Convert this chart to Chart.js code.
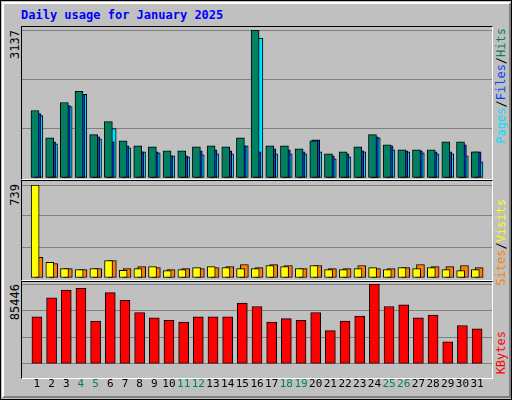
<!DOCTYPE html>
<html>
<head>
<meta charset="utf-8">
<script src="https://cdn.jsdelivr.net/npm/chart.js@4"></script>
<style>
body { margin: 0; background: #fff; font-family: "DejaVu Sans Mono", monospace; }
#wrap { position: absolute; left: 0; top: 0; width: 510px; height: 398px; background: #c0c0c0;
        border: 1px solid #000; }
#bevel { position: absolute; left: 1px; top: 1px; width: 505px; height: 392px;
         border-top: 2px solid #fff; border-left: 2px solid #fff;
         border-right: 2px solid #808080; border-bottom: 2px solid #808080; }
.title { position: absolute; left: 20px; top: 7px; color: #0000ff; font-weight: bold; font-size: 12px; }
.frame { position: absolute; left: 20px; width: 470px; border: 1px solid #000;
         border-right-color: #fff; border-bottom-color: #fff; }
.c { position: absolute; }
.vl { position: absolute; writing-mode: vertical-rl; transform: rotate(180deg); font-size: 12px; white-space: nowrap; }
</style>
</head>
<body>
<div id="wrap">
  <div id="bevel"></div>
  <div class="title">Daily usage for January 2025</div>
  <div class="frame" style="top:25px;height:152px"></div>
  <div class="frame" style="top:179px;height:99px"></div>
  <div class="frame" style="top:280px;height:96px"></div>
  <div class="vl" style="left:7px;top:29px">3137</div>
  <div class="vl" style="left:7px;top:183px">739</div>
  <div class="vl" style="left:7px;top:283px">85446</div>
  <div class="vl" style="left:493px;top:27px"><span style="color:#00e0ff">Pages</span><span style="color:#000">/</span><span style="color:#0040ff">Files</span><span style="color:#000">/</span><span style="color:#008060">Hits</span></div>
  <div class="vl" style="left:493px;top:198px"><span style="color:#ff8000">Sites</span><span style="color:#000">/</span><span style="color:#ffff00">Visits</span></div>
  <div class="vl" style="left:493px;top:330px"><span style="color:#ff0000">KBytes</span></div>
  <div class="c" style="left:21px;top:29px;width:470px;height:148px"><canvas id="c1"></canvas></div>
  <div class="c" style="left:21px;top:184px;width:470px;height:93px"><canvas id="c2"></canvas></div>
  <div class="c" style="left:21px;top:283px;width:470px;height:113px"><canvas id="c3"></canvas></div>
</div>
<script>
const days = ["1","2","3","4","5","6","7","8","9","10","11","12","13","14","15","16","17","18","19","20","21","22","23","24","25","26","27","28","29","30","31"];
const weekends = ["4","5","11","12","18","19","25","26"];

const hits  = [1430,854,1600,1835,918,1195,790,683,662,576,576,662,683,662,854,3137,683,683,620,790,512,555,662,918,704,598,598,598,768,768,555];
const files = [1366,768,1536,1771,875,768,683,555,555,470,470,576,598,576,683,555,620,598,555,811,470,512,576,875,683,576,576,555,555,704,555];
const pages = [1323,726,1515,1771,832,1046,640,555,533,470,448,491,512,512,683,2966,512,512,512,555,405,448,555,853,598,555,533,512,512,470,341];

const visits = [739,125,75,67,75,139,61,75,91,59,67,83,91,83,75,75,99,91,75,99,67,67,75,83,67,83,75,83,67,59,67];
const sites  = [165,115,75,67,75,139,75,91,83,67,75,75,83,91,107,83,107,99,75,99,75,75,99,75,75,83,107,91,91,99,83];

const kbytes = [50280,70640,78970,80820,45650,76190,67860,54910,49350,46580,44730,50280,50280,50280,65090,61390,44730,48430,46580,54910,35470,45650,51210,85446,61390,63240,49350,52130,23440,41030,37330];

const yMax = [3137, 739, 85446];

// bars of one day overlap with a small shift (in day units)
function series(values, shift, color, width) {
    return {
        data: values.map((v, i) => ({ x: i + 1 + shift, y: v })),
        backgroundColor: color,
        barThickness: width,
        borderColor: "#000",
        borderWidth: 1,
        borderSkipped: false,
        grouped: false
    };
}

function makeChart(id, datasets, max, showX) {
    new Chart(document.getElementById(id), {
        type: "bar",
        data: { datasets: datasets },
        options: {
            responsive: true,
            maintainAspectRatio: false,
            animation: false,
            layout: { padding: 0 },
            scales: {
                x: {
                    type: "linear",
                    min: 0.5, max: 31.5,
                    display: showX,
                    grid: { display: false },
                    border: { display: false },
                    afterBuildTicks: axis => { axis.ticks = days.map(d => ({ value: Number(d) })); },
                    ticks: {
                        padding: 6,
                        maxRotation: 0,
                        autoSkip: false,
                        font: { family: "DejaVu Sans Mono", size: 11 },
                        callback: v => String(v),
                        color: ctx => weekends.includes(String(ctx.tick.value)) ? "#008060" : "#000"
                    }
                },
                y: {
                    min: 0, max: max,
                    ticks: { display: false, stepSize: max / 3 },
                    grid: { color: "#808080", drawTicks: false },
                    border: { display: false }
                }
            },
            plugins: { legend: { display: false }, tooltip: { enabled: false } }
        }
    });
}

makeChart("c1", [
    series(hits, -0.13, "#008060", 8),
    series(files, 0, "#0040ff", 8),
    series(pages, 0.13, "#00e0ff", 8)
], yMax[0], false);

makeChart("c2", [
    series(visits, -0.12, "#ffff00", 8),
    series(sites, 0.14, "#ff8000", 8)
], yMax[1], false);

makeChart("c3", [
    series(kbytes, 0, "#ff0000", 10)
], yMax[2], true);
</script>
</body>
</html>
